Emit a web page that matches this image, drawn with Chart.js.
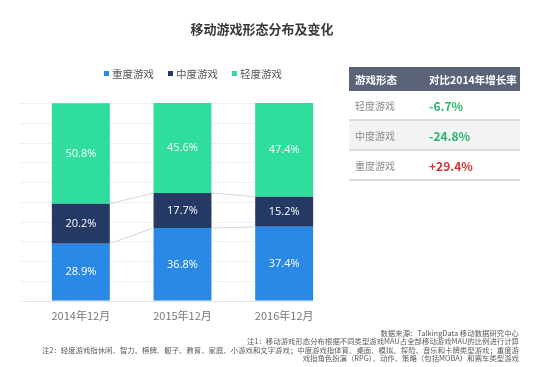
<!DOCTYPE html>
<html>
<head>
<meta charset="utf-8" />
<script src="https://cdn.jsdelivr.net/npm/chart.js@4"></script>
<style>
  html, body { margin: 0; padding: 0; background: #fff; }
  body { width: 558px; height: 367px; position: relative; overflow: hidden;
    font-family: "Noto Sans CJK SC", "Noto Sans", sans-serif; }
  #chart { position: absolute; left: 0; top: 0; }
  .title { position: absolute; left: 0; width: 524px; top: 19px; text-align: center;
    font-size: 13px; font-weight: bold; color: #3a3a3a; }
  .legend { position: absolute; left: 104px; top: 66px; font-size: 10.5px; color: #555; white-space: nowrap; }
  .legend span { margin-right: 14px; }
  .legend i { display: inline-block; width: 5px; height: 5px; margin-right: 3px; vertical-align: 2px; }
  table { position: absolute; left: 349px; top: 67px; width: 171px; border-collapse: collapse;
    font-size: 10px; }
  th { background: #5a6378; color: #fff; height: 24px; text-align: left; padding: 0 0 0 6px;
    font-weight: bold; font-size: 10.5px; }
  td { height: 28px; border-bottom: 2px solid #dcdcdc; padding: 0 0 0 6px; color: #8a8a8a; }
  tr.alt td { background: #f3f3f3; }
  td.v { font-weight: bold; font-size: 12px; }
  .notes { position: absolute; right: 39px; top: 329px; font-size: 7.4px; line-height: 8.4px;
    color: #5a5a5a; text-align: right; white-space: nowrap; }
</style>
</head>
<body>
<canvas id="chart" width="558" height="367"></canvas>
<div class="title">移动游戏形态分布及变化</div>
<div class="legend" id="legend"></div>
<table id="tbl"></table>
<div class="notes" id="notes"></div>

<script>
  const categories = ["2014年12月", "2015年12月", "2016年12月"];
  const heavy = [28.9, 36.8, 37.4];
  const medium = [20.2, 17.7, 15.2];
  const light = [50.8, 45.6, 47.4];
  const seriesNames = ["重度游戏", "中度游戏", "轻度游戏"];
  const seriesColors = ["#2b89e6", "#243a65", "#2fde9c"];

  const tableHead = ["游戏形态", "对比2014年增长率"];
  const tableNames = ["轻度游戏", "中度游戏", "重度游戏"];
  const tableValues = ["-6.7%", "-24.8%", "+29.4%"];
  const tableColors = ["#2bb36b", "#2bb36b", "#d23434"];

  const notes = [
    "数据来源：TalkingData 移动数据研究中心",
    "注1：移动游戏形态分布根据不同类型游戏MAU占全部移动游戏MAU的比例进行计算",
    "注2：轻度游戏指休闲、智力、棋牌、骰子、教育、家庭、小游戏和文字游戏；中度游戏指体育、桌面、模拟、探险、音乐和卡牌类型游戏；重度游",
    "戏指角色扮演（RPG）、动作、策略（包括MOBA）和赛车类型游戏"
  ];

  document.getElementById("legend").innerHTML = seriesNames
    .map((n, i) => `<span><i style="background:${seriesColors[i]}"></i>${n}</span>`)
    .join("");

  document.getElementById("tbl").innerHTML =
    `<tr><th style="width:68px">${tableHead[0]}</th><th>${tableHead[1]}</th></tr>` +
    tableNames
      .map((n, i) => `<tr class="${i === 1 ? "alt" : ""}"><td>${n}</td>` +
        `<td class="v" style="color:${tableColors[i]}">${tableValues[i]}</td></tr>`)
      .join("");

  document.getElementById("notes").innerHTML = notes.join("<br>");

  // grid, axis line, connectors and value labels
  const decor = {
    id: "decor",
    beforeDatasetsDraw(chart) {
      const ctx = chart.ctx;
      const y = chart.scales.y;
      const last = chart.getDatasetMeta(0).data[categories.length - 1];
      const right = last.x + last.width / 2;
      ctx.save();
      ctx.strokeStyle = "#f0f0f0";
      ctx.lineWidth = 1;
      y.ticks.forEach((t) => {
        const py = Math.round(y.getPixelForValue(t.value)) + 0.5;
        ctx.beginPath();
        ctx.moveTo(20, py);
        ctx.lineTo(right, py);
        ctx.stroke();
      });
      ctx.strokeStyle = "#e4e4e4";
      const by = Math.round(y.getPixelForValue(0)) + 0.5;
      ctx.beginPath();
      ctx.moveTo(27, by);
      ctx.lineTo(right, by);
      ctx.stroke();
      ctx.restore();
    },
    afterDatasetsDraw(chart) {
      const ctx = chart.ctx;
      ctx.save();
      ctx.strokeStyle = "#d6d6d6";
      ctx.lineWidth = 1;
      [0, 1].forEach((d) => {
        const bars = chart.getDatasetMeta(d).data;
        for (let i = 0; i < bars.length - 1; i++) {
          const a = bars[i], b = bars[i + 1];
          ctx.beginPath();
          ctx.moveTo(a.x + a.width / 2, a.y);
          ctx.lineTo(b.x - b.width / 2, b.y);
          ctx.stroke();
        }
      });
      ctx.fillStyle = "#fff";
      ctx.font = "11px 'Open Sans', sans-serif";
      ctx.textAlign = "center";
      ctx.textBaseline = "middle";
      chart.data.datasets.forEach((ds, d) => {
        chart.getDatasetMeta(d).data.forEach((bar, i) => {
          ctx.fillText(ds.data[i].toFixed(1) + "%", bar.x, (bar.y + bar.base) / 2);
        });
      });
      ctx.restore();
    }
  };

  new Chart(document.getElementById("chart"), {
    type: "bar",
    data: {
      labels: categories,
      datasets: [heavy, medium, light].map((data, i) => ({
        label: seriesNames[i],
        data: data,
        backgroundColor: seriesColors[i],
        barPercentage: 1,
        categoryPercentage: 0.57
      }))
    },
    options: {
      responsive: false,
      animation: false,
      layout: { padding: { left: 30, right: 223, top: 103, bottom: 37 } },
      plugins: { legend: { display: false }, tooltip: { enabled: false } },
      scales: {
        x: {
          stacked: true,
          grid: { display: false, drawTicks: false },
          border: { display: false },
          ticks: { color: "#777", font: { size: 11, family: "'Noto Sans CJK SC'" }, padding: 8 }
        },
        y: {
          stacked: true,
          display: false,
          min: 0,
          max: 100,
          ticks: { stepSize: 10 }
        }
      }
    },
    plugins: [decor]
  });
</script>
</body>
</html>
